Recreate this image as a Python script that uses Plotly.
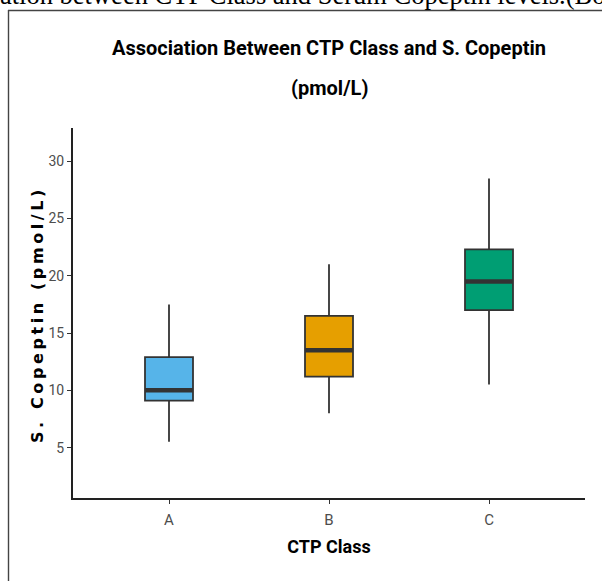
import plotly.graph_objects as go

categories = ["A", "B", "C"]
lower_whisker = [5.5, 8.0, 10.5]
q1_values = [9.1, 11.2, 17.0]
median_values = [10.0, 13.5, 19.5]
q3_values = [12.9, 16.5, 22.3]
upper_whisker = [17.5, 21.0, 28.5]
box_colors = ["#56B4E9", "#E69F00", "#009E73"]
y_ticks = [5, 10, 15, 20, 25, 30]

BOX_W = 0.3
COND = "Roboto, sans-serif"

fig = go.Figure()
for i, cat in enumerate(categories):
    fig.add_trace(go.Box(
        x=[i], q1=[q1_values[i]], median=[median_values[i]], q3=[q3_values[i]],
        lowerfence=[lower_whisker[i]], upperfence=[upper_whisker[i]],
        width=BOX_W, whiskerwidth=0, fillcolor=box_colors[i],
        line=dict(color="#333333", width=1.8), boxpoints=False,
        showlegend=False, name=cat, hoverinfo="skip",
    ))
    fig.add_trace(go.Scatter(
        x=[i - BOX_W / 2, i + BOX_W / 2], y=[median_values[i]] * 2,
        mode="lines", line=dict(color="#333333", width=4.5),
        showlegend=False, hoverinfo="skip",
    ))

L, R, T, B = 73, 17, 128, 83
W, H = 602, 581
pw, ph = W - L - R, H - T - B

def px_x(px):
    return (px - L) / pw

def px_y(py):
    return (H - B - py) / ph

fig.update_layout(
    width=W, height=H,
    margin=dict(l=L, r=R, t=T, b=B, pad=0),
    paper_bgcolor="white", plot_bgcolor="white",
    title=dict(
        text="<b>Association Between CTP Class and S. Copeptin</b>",
        xref="paper", x=0.5, xanchor="center", y=1 - 48 / H, yanchor="middle",
        font=dict(family=COND, size=20, color="black"),
    ),
    xaxis=dict(
        range=[-0.6, 2.6], tickvals=[0, 1, 2], ticktext=categories,
        showline=True, linecolor="#222222", linewidth=2,
        ticks="outside", ticklen=4, tickcolor="#333333", tickwidth=1,
        ticklabelstandoff=3,
        showgrid=False, zeroline=False,
        tickfont=dict(family=COND, size=15, color="#4d4d4d"),
        title=dict(text="<b>CTP Class</b>", standoff=12,
                   font=dict(family=COND, size=18, color="black")),
    ),
    yaxis=dict(
        range=[0.6, 32.9], tickvals=y_ticks,
        showline=True, linecolor="#222222", linewidth=2,
        ticks="outside", ticklen=4, tickcolor="#333333", tickwidth=1,
        showgrid=False, zeroline=False,
        tickfont=dict(family=COND, size=14, color="#4d4d4d"),
    ),
    shapes=[
        dict(type="line", xref="paper", yref="paper",
             x0=px_x(8.5), x1=px_x(8.5), y0=px_y(10), y1=px_y(600),
             line=dict(color="#444444", width=1.4)),
        dict(type="line", xref="paper", yref="paper",
             x0=px_x(8), x1=px_x(620), y0=px_y(10.5), y1=px_y(10.5),
             line=dict(color="#444444", width=1.6)),
    ],
    annotations=[
        dict(text="<b>(pmol/L)</b>", xref="paper", yref="paper",
             x=0.5, y=px_y(88), xanchor="center", yanchor="middle",
             showarrow=False, font=dict(family=COND, size=20, color="black")),
        dict(text="<b>S. Copeptin (pmol/L)</b>", xref="paper", yref="paper",
             x=px_x(37), y=px_y(315), xanchor="center", yanchor="middle",
             textangle=-90, showarrow=False,
             font=dict(family="DejaVu Sans, sans-serif", size=16, color="black")),
        dict(text="ation between CTP Class and Serum Copeptin levels.(Box",
             xref="paper", yref="paper", x=px_x(-2), y=px_y(-5),
             xanchor="left", yanchor="middle", showarrow=False,
             font=dict(family="Liberation Serif, Times New Roman, serif", size=26.5, color="black")),
    ],
)

post = (
    "document.body.style.margin='0';"
    "document.querySelectorAll('.annotation-text').forEach(function(t){"
    "if(t.textContent.indexOf('S. Copeptin')===0){t.style.letterSpacing='3.6px';}});"
)
fig.write_html("out.html", config={"displayModeBar": False}, post_script=post)
